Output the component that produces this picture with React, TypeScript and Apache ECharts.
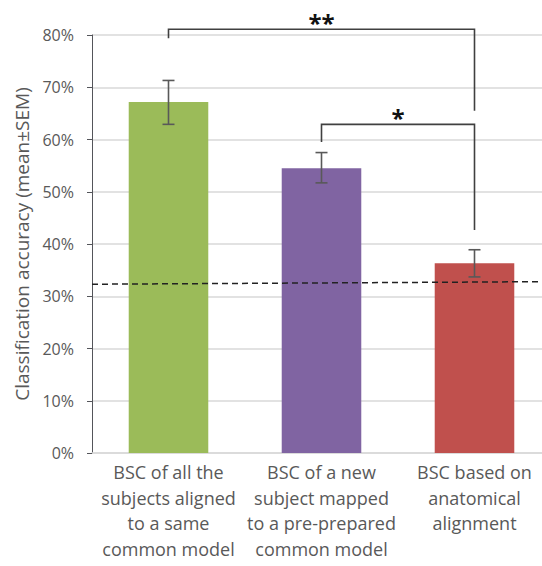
import React, { useEffect, useRef } from "react";
import * as echarts from "echarts";

const categories = [
  "BSC of all the\nsubjects aligned\nto a same\ncommon model",
  "BSC of a new\nsubject mapped\nto a pre-prepared\ncommon model",
  "BSC based on\nanatomical\nalignment",
];
const meanValues = [67.2, 54.5, 36.3];
const errLow = [62.9, 51.7, 33.7];
const errHigh = [71.3, 57.5, 38.9];
const barColors = ["#9BBB59", "#8064A2", "#C0504D"];
const yTicks = { min: 0, max: 80, interval: 10 };
// chance level dashed line: [xFraction, value]
const chanceLine = [
  [0, 32.3],
  [1, 32.8],
];
// significance brackets: [fromIdx, toIdx, topValue, leftBottom, rightBottom]
const brackets = [
  [0, 2, 81.1, 79.4, 65.5],
  [1, 2, 62.9, 59.5, 42.7],
];
const sigLabels = ["**", "*"];

const FONT = "'Open Sans', sans-serif";
const TEXT = "#595959";

export default function App() {
  const ref = useRef<HTMLDivElement>(null);
  useEffect(() => {
    if (!ref.current) return;
    const chart = echarts.init(ref.current, null, { renderer: "svg" });
    chart.setOption({
      animation: false,
      grid: { left: 92, top: 35, width: 459, height: 418, outerBoundsMode: "none" },
      xAxis: [
        {
          type: "category",
          data: categories,
          axisLine: { lineStyle: { color: "#D9D9D9", width: 1.5 } },
          axisTick: { show: false },
          axisLabel: {
            color: TEXT,
            fontFamily: FONT,
            fontSize: 18,
            lineHeight: 25.7,
            margin: 6,
            interval: 0,
          },
        },
        { type: "value", min: 0, max: 1, show: false },
      ],
      yAxis: {
        type: "value",
        min: yTicks.min,
        max: yTicks.max,
        interval: yTicks.interval,
        name: "Classification accuracy (mean±SEM)",
        nameLocation: "middle",
        nameGap: 55,
        nameTextStyle: { color: TEXT, fontFamily: FONT, fontSize: 19 },
        axisLabel: {
          color: TEXT,
          fontFamily: FONT,
          fontSize: 16,
          margin: 18,
          formatter: "{value}%",
        },
        splitLine: { lineStyle: { color: "#D9D9D9", width: 1.5 } },
      },
      series: [
        {
          type: "bar",
          data: meanValues.map((v, i) => ({ value: v, itemStyle: { color: barColors[i] } })),
          barWidth: "52%",
          z: 2,
        },
        {
          type: "line",
          xAxisIndex: 1,
          data: chanceLine,
          symbol: "none",
          lineStyle: { color: "#222", width: 1.5, type: [6, 4] },
          z: 3,
        },
        {
          type: "custom",
          data: meanValues.map((_, i) => [i, errLow[i], errHigh[i]]),
          z: 4,
          renderItem: (params: any, api: any) => {
            const x = api.value(0);
            const lo = api.coord([x, api.value(1)]);
            const hi = api.coord([x, api.value(2)]);
            const w = 6;
            const style = { stroke: "#595959", lineWidth: 1.6 };
            return {
              type: "group",
              children: [
                { type: "line", shape: { x1: lo[0], y1: lo[1], x2: hi[0], y2: hi[1] }, style },
                { type: "line", shape: { x1: lo[0] - w, y1: lo[1], x2: lo[0] + w, y2: lo[1] }, style },
                { type: "line", shape: { x1: hi[0] - w, y1: hi[1], x2: hi[0] + w, y2: hi[1] }, style },
              ],
            };
          },
        },
        {
          type: "custom",
          data: brackets,
          z: 5,
          clip: false,
          renderItem: (params: any, api: any) => {
            const a = api.value(0);
            const b = api.value(1);
            const p1 = api.coord([a, api.value(3)]);
            const p2 = api.coord([a, api.value(2)]);
            const p3 = api.coord([b, api.value(2)]);
            const p4 = api.coord([b, api.value(4)]);
            return {
              type: "group",
              children: [
                {
                  type: "polyline",
                  shape: { points: [p1, p2, p3, p4] },
                  style: { stroke: "#404040", lineWidth: 1.6, fill: "none" },
                },
                {
                  type: "text",
                  x: (p2[0] + p3[0]) / 2,
                  y: p2[1] - 7,
                  style: {
                    text: sigLabels[params.dataIndex],
                    fill: "#111",
                    fontFamily: FONT,
                    fontSize: 24,
                    fontWeight: "bold",
                    align: "center",
                    verticalAlign: "middle",
                  },
                },
              ],
            };
          },
        },
      ],
    });
    return () => chart.dispose();
  }, []);
  return <div ref={ref} style={{ width: 542, height: 566, position: "absolute", left: 0, top: 0 }} />;
}
